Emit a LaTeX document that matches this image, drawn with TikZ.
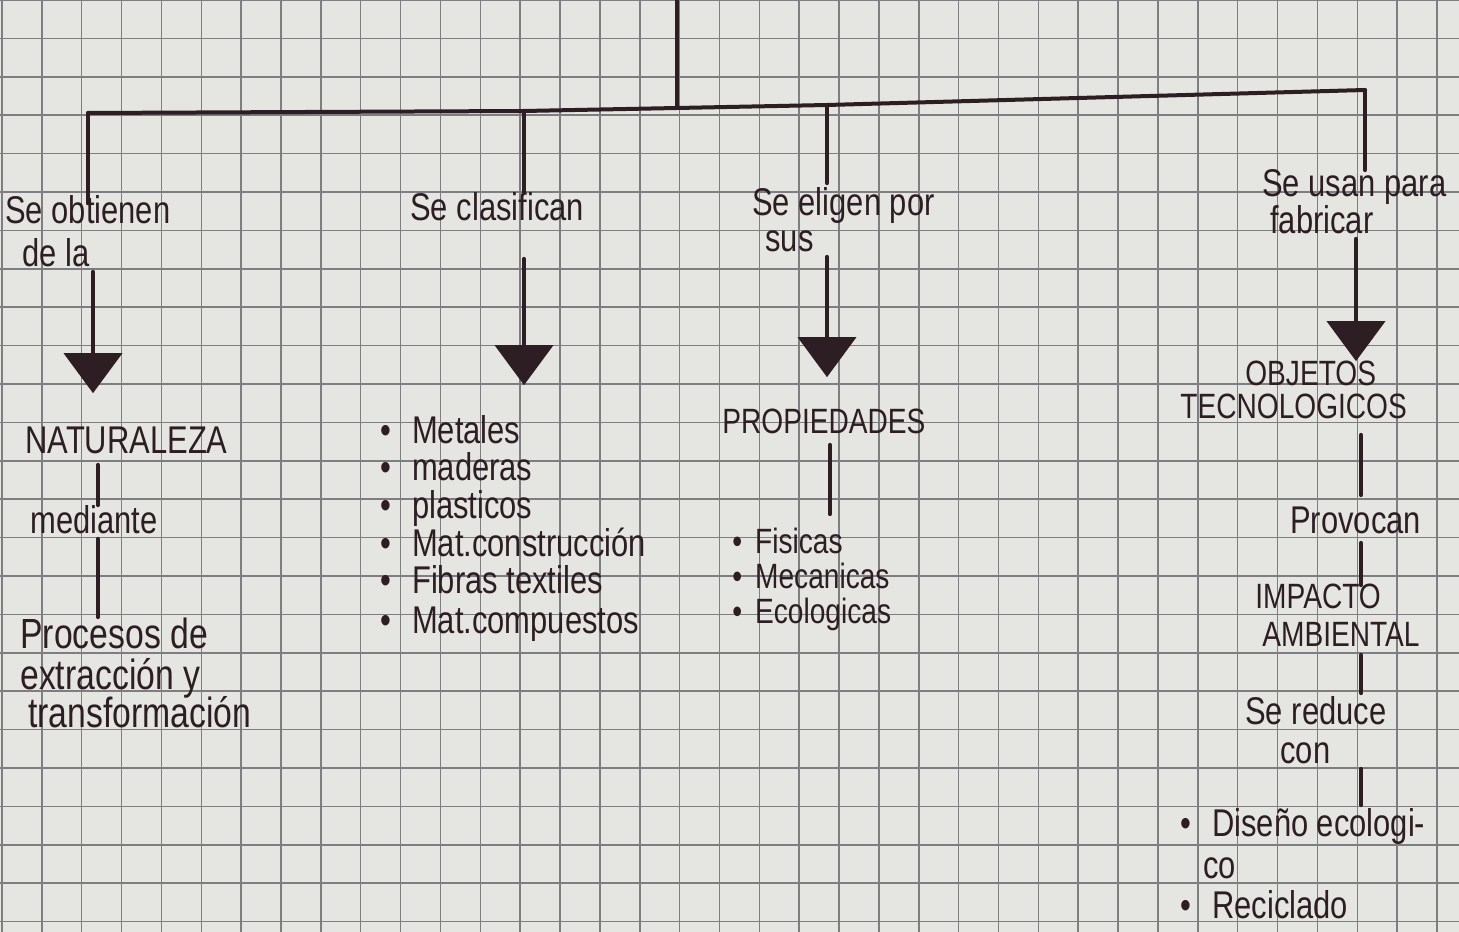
\documentclass[tikz,border=0pt]{standalone}
\usepackage{fontspec}
\setmainfont[FakeStretch=0.8]{Liberation Sans}
\usetikzlibrary{arrows.meta}
\definecolor{paper}{RGB}{229,229,226}
\definecolor{gridc}{RGB}{125,125,130}
\definecolor{ink}{RGB}{45,30,35}
\begin{document}
\begin{tikzpicture}[x=0.02cm,y=-0.02cm,
  txt/.style={anchor=west,inner sep=0pt,text height=0.44cm,text depth=0.1cm,text=ink,font=\fontsize{22pt}{24pt}\selectfont},
  caps/.style={txt,font=\fontsize{20pt}{24pt}\selectfont},
  small/.style={txt,font=\fontsize{20pt}{22pt}\selectfont},
  big/.style={txt,font=\fontsize{24pt}{26pt}\selectfont},
  conn/.style={draw=ink,line width=0.08cm,line cap=round},
  arr/.style={conn,-{Triangle[width=1.16cm,length=0.8cm]}},
  gridline/.style={draw=gridc,line width=0.03cm}]
\useasboundingbox (0,0) rectangle (1459,932);
\fill[paper] (0,0) rectangle (1459,932);
\foreach \i in {0,...,36} \draw[gridline] ({2+39.86*\i},0) -- ({2+39.86*\i},932);
\foreach \j in {0,...,24} \draw[gridline] (0,{38.4*\j}) -- (1459,{38.4*\j});

% branch 1
\node[txt] (obt) at (5,215) {Se obtienen};
\node[txt] (dela) at (22,258) {de la};
\node[txt] (nat) at (25,445) {NATURALEZA};
\node[txt] (med) at (30,525) {mediante};
\node[big] (proc1) at (20,640) {Procesos de};
\node[big] (proc2) at (20,681) {extracción y};
\node[big] (proc3) at (28,719) {transformación};

% branch 2
\node[txt] (clas) at (410,212) {Se clasifican};
\node[txt] (l1) at (380,435) {\textbullet\hspace{0.42cm}Metales};
\node[txt] (l2) at (380,472) {\textbullet\hspace{0.42cm}maderas};
\node[txt] (l3) at (380,510) {\textbullet\hspace{0.42cm}plasticos};
\node[txt] (l4) at (380,548) {\textbullet\hspace{0.42cm}Mat.construcción};
\node[txt] (l5) at (380,585) {\textbullet\hspace{0.42cm}Fibras textiles};
\node[txt] (l6) at (380,625) {\textbullet\hspace{0.42cm}Mat.compuestos};

% branch 3
\node[txt] (eli) at (752,207) {Se eligen por};
\node[txt] (sus) at (765,243) {sus};
\node[caps] (prop) at (722,425) {PROPIEDADES};
\node[small] (fis) at (732,545) {\textbullet\hspace{0.26cm}Fisicas};
\node[small] (mec) at (732,580) {\textbullet\hspace{0.26cm}Mecanicas};
\node[small] (eco) at (732,615) {\textbullet\hspace{0.26cm}Ecologicas};

% branch 4
\node[txt] (usan) at (1262,188) {Se usan para};
\node[txt] (fab) at (1270,225) {fabricar};
\node[caps] (obj) at (1245,377) {OBJETOS};
\node[caps] (tec) at (1180,410) {TECNOLOGICOS};
\node[txt] (prov) at (1290,525) {Provocan};
\node[caps] (imp) at (1255,600) {IMPACTO};
\node[caps] (amb) at (1262,638) {AMBIENTAL};
\node[txt] (red) at (1245,716) {Se reduce};
\node[txt] (con) at (1280,755) {con};
\node[txt] (dis) at (1180,828) {\textbullet\hspace{0.42cm}Diseño ecologi-};
\node[txt] (co) at (1203,870) {co};
\node[txt] (rec) at (1180,910) {\textbullet\hspace{0.42cm}Reciclado};

% trunk and bar
\coordinate (top) at (677,0);
\coordinate (hub) at (677,108);
\coordinate (b1) at (88,113);
\coordinate (b2) at (524,111);
\coordinate (b3) at (827,105);
\coordinate (b4) at (1365,90);
\draw[conn] (top) -- (hub);
\draw[conn] (b1) -- (b2) -- (hub) -- (b3) -- (b4);

% branch 1 connectors
\coordinate (c1) at (93,0);
\coordinate (c1b) at (98,0);
\draw[conn, shorten >=-0.04cm] (b1) -- (b1 |- obt.north);
\draw[arr, shorten >=0.76cm] (c1 |- dela.south) -- (c1 |- nat.north);
\draw[conn, shorten <=0.12cm, shorten >=0.12cm] (c1b |- nat.south) -- (c1b |- med.north);
\draw[conn, shorten >=0.18cm] (c1b |- med.south) -- (c1b |- proc1.north);

% branch 2 connectors
\draw[conn, shorten >=0.12cm] (b2) -- (b2 |- clas.north);
\draw[arr, shorten <=0.66cm, shorten >=0.72cm] (b2 |- clas.south) -- (b2 |- l1.north);

% branch 3 connectors
\coordinate (c3b) at (830,0);
\draw[conn, shorten >=0.2cm] (b3) -- (b3 |- eli.north);
\draw[arr, shorten >=0.68cm] (b3 |- sus.south) -- (b3 |- prop.north);
\draw[conn, shorten <=0.12cm, shorten >=0.34cm] (c3b |- prop.south) -- (c3b |- fis.north);

% branch 4 connectors
\coordinate (c4) at (1356,0);
\coordinate (c4b) at (1361,0);
\draw[conn, shorten >=0.08cm] (b4) -- (b4 |- usan.north);
\draw[arr, shorten >=0.04cm] (c4 |- fab.south) -- (c4 |- obj.north);
\draw[conn, shorten <=0.22cm, shorten >=0.32cm] (c4b |- tec.south) -- (c4b |- prov.north);
\draw[conn, shorten <=0.08cm, shorten >=0.02cm] (c4b |- prov.south) -- (c4b |- imp.north);
\draw[conn, shorten <=0.06cm, shorten >=0.18cm] (c4b |- amb.south) -- (c4b |- red.north);
\draw[conn, shorten >=0.18cm] (c4b |- con.south) -- (c4b |- dis.north);
\end{tikzpicture}
\end{document}
